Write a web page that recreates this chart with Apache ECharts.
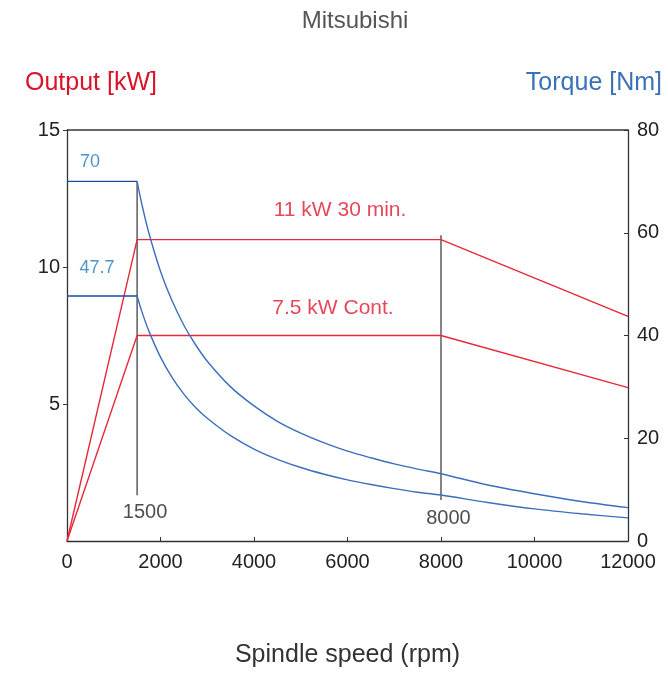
<!DOCTYPE html>
<html>
<head>
<meta charset="utf-8">
<script src="https://cdn.jsdelivr.net/npm/echarts@6/dist/echarts.min.js"></script>
<style>html,body{margin:0;padding:0;background:#fff}#c{width:668px;height:673px}</style>
</head>
<body>
<div id="c"></div>
<script>
// ---- data ----
const titleText = 'Mitsubishi';
const xName = 'Spindle speed (rpm)';
const leftName = 'Output [kW]';
const rightName = 'Torque [Nm]';

// Output (kW) vs speed (rpm)
const power30Speed = [0, 1500, 8000, 12000];
const power30Value = [0, 11, 11, 8.2];
const powerContSpeed = [0, 1500, 8000, 12000];
const powerContValue = [0, 7.5, 7.5, 5.6];

// Torque (Nm) flat parts
const torqueFlatSpeed = [0, 1500];
const torque30Flat = [70, 70];
const torqueContFlat = [47.7, 47.7];

// Torque (Nm) curves
const torqueCurveSpeed = [1500, 1600, 1750, 2000, 2250, 2500, 2750, 3000, 3500, 4000, 4500, 5000, 5500, 6000, 6500, 7000, 7500, 8000, 9000, 10000, 11000, 12000];
const torque30Curve =   [70, 65.6, 60, 52.5, 46.7, 42, 38.2, 35, 30, 26.3, 23.3, 21, 19.1, 17.5, 16.2, 15, 14, 13.1, 10.9, 9.2, 7.7, 6.5];
const torqueContCurve = [47.7, 44.7, 40.9, 35.8, 31.8, 28.6, 26, 23.9, 20.5, 17.9, 15.9, 14.3, 13, 11.9, 11, 10.2, 9.5, 8.95, 7.5, 6.25, 5.3, 4.5];

// reference verticals (speed, torque range on right axis)
const vline1500 = [[1500, 70], [1500, 8.9]];
const vline8000 = [[8000, 59.5], [8000, 8.0]];

// annotation texts and anchor values
const annTorqueText = ['70', '47.7', '1500', '8000'];
const annTorqueSpeed = [492, 642, 1670, 8160];
const annTorqueValue = [73.8, 53.1, 5.6, 4.3];
const annPowerText = ['11 kW 30 min.', '7.5 kW Cont.'];
const annPowerSpeed = [5840, 5690];
const annPowerValue = [12.08, 8.5];

// ---- chart ----
const RED = '#e8283c';
const BLUE_D = '#1a4c9e';
const BLUE_L = '#3b6fbc';
const FONT = 'Liberation Sans, Arial, sans-serif';
const zip = (a, b) => a.map((v, i) => [v, b[i]]);

const chart = echarts.init(document.getElementById('c'));
const lineBase = { type: 'line', symbol: 'none', silent: true, animation: false };
chart.setOption({
  animation: false,
  title: { text: titleText, left: 350, top: 4, textAlign: 'center',
    textStyle: { fontFamily: FONT, fontSize: 24, fontWeight: 'normal', color: '#555' } },
  grid: { left: 67, right: 40, top: 130, bottom: 132, outerBoundsMode: 'none', containLabel: false },
  xAxis: {
    type: 'value', min: 0, max: 12000, interval: 2000,
    name: xName, nameLocation: 'middle', nameGap: 102,
    nameTextStyle: { fontFamily: FONT, fontSize: 25, color: '#333' },
    axisLine: { show: true, lineStyle: { color: '#333', width: 1.3 } },
    axisTick: { show: true, inside: true, length: 4, lineStyle: { color: '#333' } },
    axisLabel: { fontFamily: FONT, fontSize: 20, color: '#222', margin: 11, formatter: v => String(v) },
    splitLine: { show: false }
  },
  yAxis: [
    {
      type: 'value', min: 0, max: 15, interval: 5, position: 'left',
      axisLine: { show: true, lineStyle: { color: '#333', width: 1.3 } },
      axisTick: { show: true, length: 4, lineStyle: { color: '#333' } },
      axisLabel: { fontFamily: FONT, fontSize: 20, color: '#222', margin: 7, showMinLabel: false },
      splitLine: { show: false }
    },
    {
      type: 'value', min: 0, max: 80, interval: 20, position: 'right',
      axisLine: { show: true, lineStyle: { color: '#333', width: 1.3 } },
      axisTick: { show: true, inside: true, length: 4, lineStyle: { color: '#333' } },
      axisLabel: { fontFamily: FONT, fontSize: 20, color: '#222', margin: 9 },
      splitLine: { show: false }
    }
  ],
  graphic: [
    { type: 'text', left: 25, top: 71, style: { text: leftName, fontFamily: FONT, fontSize: 25, fill: '#d9142a' } },
    { type: 'text', right: 6, top: 71, style: { text: rightName, fontFamily: FONT, fontSize: 25, fill: '#3a72b8' } },
    { type: 'rect', shape: { x: 67, y: 130, width: 561, height: 0 }, style: { stroke: '#333', lineWidth: 1.3 }, silent: true }
  ],
  series: [
    Object.assign({}, lineBase, { yAxisIndex: 1, data: vline1500, lineStyle: { color: '#666', width: 1.6 } }),
    Object.assign({}, lineBase, { yAxisIndex: 1, data: vline8000, lineStyle: { color: '#666', width: 1.6 } }),
    Object.assign({}, lineBase, { yAxisIndex: 0, data: zip(power30Speed, power30Value), lineStyle: { color: RED, width: 1.4 } }),
    Object.assign({}, lineBase, { yAxisIndex: 0, data: zip(powerContSpeed, powerContValue), lineStyle: { color: RED, width: 1.4 } }),
    Object.assign({}, lineBase, { yAxisIndex: 1, data: zip(torqueFlatSpeed, torque30Flat), lineStyle: { color: BLUE_D, width: 1.4 } }),
    Object.assign({}, lineBase, { yAxisIndex: 1, data: zip(torqueFlatSpeed, torqueContFlat), lineStyle: { color: BLUE_D, width: 1.4 } }),
    Object.assign({}, lineBase, { yAxisIndex: 1, smooth: 0.3, data: zip(torqueCurveSpeed, torque30Curve), lineStyle: { color: BLUE_L, width: 1.4 } }),
    Object.assign({}, lineBase, { yAxisIndex: 1, smooth: 0.3, data: zip(torqueCurveSpeed, torqueContCurve), lineStyle: { color: BLUE_L, width: 1.4 } }),
    {
      type: 'scatter', yAxisIndex: 1, symbolSize: 0, silent: true,
      data: annTorqueSpeed.map((s, i) => ({ value: [s, annTorqueValue[i]], name: annTorqueText[i],
        label: { color: i < 2 ? '#1f78c0' : '#222', fontSize: i < 2 ? 18 : 20 } })),
      label: { show: true, position: 'inside', formatter: p => p.name, fontFamily: FONT }
    },
    {
      type: 'scatter', yAxisIndex: 0, symbolSize: 0, silent: true,
      data: annPowerSpeed.map((s, i) => ({ value: [s, annPowerValue[i]], name: annPowerText[i] })),
      label: { show: true, position: 'inside', formatter: p => p.name, fontFamily: FONT, fontSize: 21, color: '#e0182e' }
    }
  ]
});
</script>
</body>
</html>
